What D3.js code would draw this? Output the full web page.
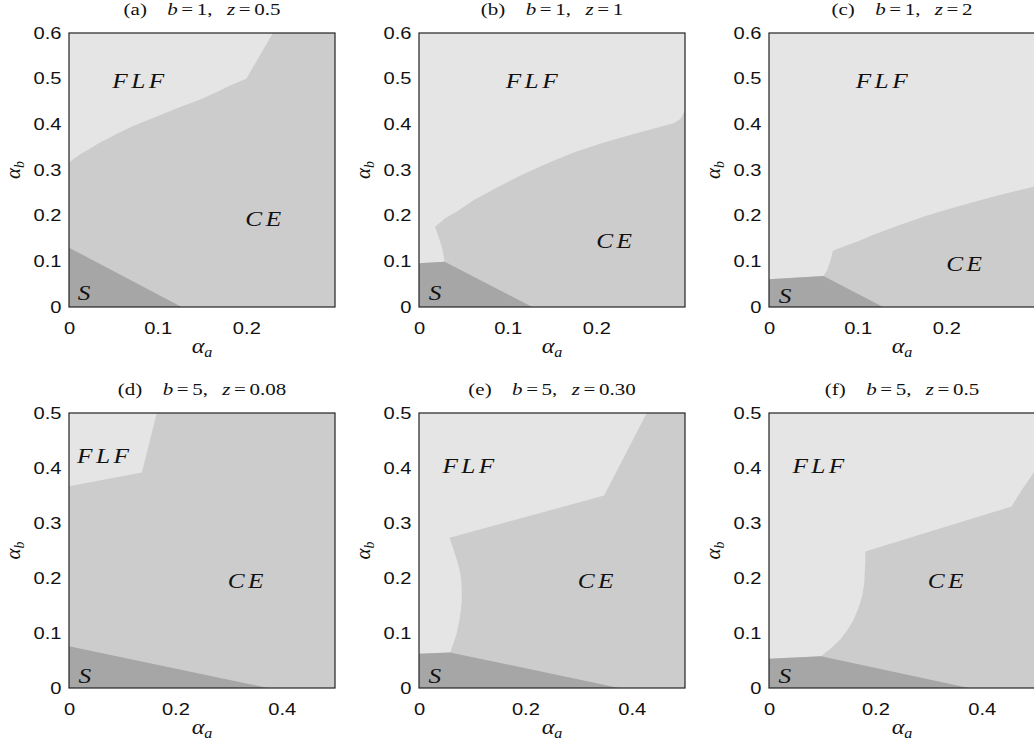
<!DOCTYPE html>
<html>
<head>
<meta charset="utf-8">
<script src="https://cdn.jsdelivr.net/npm/d3@7"></script>
<style>
    body { margin: 0; background: #fff; }
    svg { display: block; }
    .tick text { font-family: "Liberation Sans", Arial, sans-serif; font-size: 16.5px; fill: #111; }
    .serif { font-family: "Liberation Serif", "Times New Roman", serif; fill: #111; }
</style>
</head>
<body>
<svg id="chart"></svg>
<script>
    /* Panel data */

    var panelIds = ['a', 'b', 'c', 'd', 'e', 'f'];
    var bValues = ['1', '1', '1', '5', '5', '5'];
    var zValues = ['0.5', '1', '2', '0.08', '0.30', '0.5'];
    var xMax = [0.3, 0.3, 0.3, 0.5, 0.5, 0.5];
    var yMax = [0.6, 0.6, 0.6, 0.5, 0.5, 0.5];
    var xTicks = [[0, 0.1, 0.2], [0, 0.1, 0.2], [0, 0.1, 0.2], [0, 0.2, 0.4], [0, 0.2, 0.4], [0, 0.2, 0.4]];
    var yTicks = [
        [0, 0.1, 0.2, 0.3, 0.4, 0.5, 0.6], [0, 0.1, 0.2, 0.3, 0.4, 0.5, 0.6], [0, 0.1, 0.2, 0.3, 0.4, 0.5, 0.6],
        [0, 0.1, 0.2, 0.3, 0.4, 0.5], [0, 0.1, 0.2, 0.3, 0.4, 0.5], [0, 0.1, 0.2, 0.3, 0.4, 0.5]
    ];

    /* FLF / CE boundary, from the left edge to the top or right edge */
    var flfEdge = [
        [[0, 0.316], [0.005, 0.324], [0.014, 0.336], [0.024, 0.347], [0.033, 0.358], [0.052, 0.377], [0.071, 0.395],
         [0.09, 0.41], [0.108, 0.424], [0.127, 0.439], [0.146, 0.453], [0.165, 0.469], [0.183, 0.486],
         [0.2, 0.5], [0.23, 0.6]],
        [[0, 0.096], [0.029, 0.099], [0.0257, 0.132], [0.0207, 0.161], [0.018, 0.176], [0.03, 0.195], [0.0427, 0.209],
         [0.0615, 0.234], [0.09, 0.264], [0.118, 0.291], [0.145, 0.315], [0.175, 0.339], [0.205, 0.358],
         [0.231, 0.373], [0.26, 0.388], [0.288, 0.403], [0.295, 0.412], [0.3, 0.43]],
        [[0, 0.0606], [0.0615, 0.068], [0.066, 0.082], [0.0683, 0.0957], [0.0705, 0.11], [0.072, 0.123], [0.085, 0.133],
         [0.0993, 0.143], [0.118, 0.158], [0.145, 0.178], [0.175, 0.198], [0.2, 0.213], [0.231, 0.23],
         [0.26, 0.245], [0.3, 0.264]],
        [[0, 0.367], [0.137, 0.392], [0.165, 0.5]],
        [[0, 0.0624], [0.0585, 0.0647], [0.065, 0.082], [0.071, 0.1], [0.075, 0.118], [0.0785, 0.14], [0.0805, 0.16],
         [0.0803, 0.18], [0.0786, 0.203], [0.075, 0.22], [0.071, 0.233], [0.065, 0.252], [0.0573, 0.273],
         [0.348, 0.35], [0.428, 0.5]],
        [[0, 0.0533], [0.098, 0.0576], [0.116, 0.072], [0.1336, 0.0878], [0.147, 0.105], [0.159, 0.124],
         [0.168, 0.145], [0.175, 0.167], [0.179, 0.19], [0.18, 0.209], [0.181, 0.23], [0.181, 0.248],
         [0.456, 0.33], [0.475, 0.36], [0.5, 0.395]]
    ];

    /* S boundary, from the left edge to the bottom edge */
    var sEdge = [
        [[0, 0.13], [0.127, 0]],
        [[0, 0.096], [0.029, 0.099], [0.128, 0]],
        [[0, 0.0606], [0.0615, 0.068], [0.1287, 0]],
        [[0, 0.0757], [0.375, 0]],
        [[0, 0.0624], [0.0585, 0.0647], [0.376, 0]],
        [[0, 0.0533], [0.098, 0.0576], [0.376, 0]]
    ];

    /* Region label anchors, data coords: FLF, CE, S */
    var flfLabel = [[0.08, 0.497], [0.129, 0.497], [0.129, 0.497], [0.067, 0.424], [0.096, 0.405], [0.096, 0.405]];
    var ceLabel = [[0.221, 0.195], [0.222, 0.147], [0.222, 0.096], [0.335, 0.196], [0.335, 0.196], [0.335, 0.196]];
    var sLabel = [[0.019, 0.033], [0.02, 0.033], [0.02, 0.026], [0.033, 0.024], [0.033, 0.024], [0.033, 0.024]];

    /* Layout */

    var width = 1034,
        height = 747,
        colLeft = [69, 419, 769],
        rowTop = [33, 413],
        plotW = 266,
        plotH = [274, 275],
        stretch = 1.22;

    var colFLF = '#e5e5e5',
        colCE = '#cccccc',
        colS = '#a6a6a6';

    var svg = d3.select('#chart')
        .attr('width', width)
        .attr('height', height);

    var line = d3.line();

    panelIds.forEach(function (id, i) {
        var row = Math.floor(i / 3),
            col = i % 3,
            h = plotH[row];

        var x = d3.scaleLinear().domain([0, xMax[i]]).range([0, plotW]);
        var y = d3.scaleLinear().domain([0, yMax[i]]).range([h, 0]);

        line.x(function (d) { return x(d[0]); }).y(function (d) { return y(d[1]); });

        var g = svg.append('g')
            .attr('transform', 'translate(' + [colLeft[col], rowTop[row]] + ')');

        /* CE background */
        g.append('rect')
            .attr('width', plotW).attr('height', h)
            .attr('fill', colCE);

        /* FLF region */
        var edge = flfEdge[i];
        var flf = [[0, yMax[i]]].concat(edge);
        if (edge[edge.length - 1][1] < yMax[i]) flf.push([xMax[i], yMax[i]]);
        g.append('path')
            .attr('d', line(flf) + 'Z')
            .attr('fill', colFLF);

        /* S region */
        var s = [[0, 0]].concat(sEdge[i]);
        g.append('path')
            .attr('d', line(s) + 'Z')
            .attr('fill', colS);

        /* frame */
        g.append('rect')
            .attr('width', plotW).attr('height', h)
            .attr('fill', 'none')
            .attr('stroke', '#222')
            .attr('stroke-width', 1.2);

        /* axes */
        var fmt = function (d) { return d === 0 ? '0' : d3.format('.1f')(d); };

        var xa = g.append('g')
            .attr('transform', 'translate(0,' + h + ')')
            .call(d3.axisBottom(x).tickValues(xTicks[i]).tickSize(0).tickPadding(15).tickFormat(fmt));
        xa.select('.domain').remove();
        xa.selectAll('.tick text').attr('transform', 'scale(' + stretch + ',1)');

        var ya = g.append('g')
            .call(d3.axisLeft(y).tickValues(yTicks[i]).tickSize(0).tickPadding(7.5 / stretch).tickFormat(fmt));
        ya.select('.domain').remove();
        ya.selectAll('.tick text').attr('transform', 'scale(' + stretch + ',1)');

        /* region labels */
        var labels = [['FLF', flfLabel[i]], ['CE', ceLabel[i]], ['S', sLabel[i]]];
        labels.forEach(function (l) {
            g.append('text')
                .attr('class', 'serif')
                .attr('transform', 'translate(' + [x(l[1][0]), y(l[1][1])] + ') scale(1.15,1)')
                .attr('dy', '0.35em')
                .attr('text-anchor', 'middle')
                .style('font-style', 'italic')
                .style('font-size', '22px')
                .style('letter-spacing', '3px')
                .text(l[0]);
        });

        /* title */
        var t = g.append('text')
            .attr('class', 'serif')
            .attr('transform', 'translate(' + [plotW / 2, -18] + ') scale(1.2,1)')
            .attr('text-anchor', 'middle')
            .style('font-size', '17.5px');
        t.append('tspan').text('(' + id + ')');
        t.append('tspan').attr('dx', 17).style('font-style', 'italic').text('b');
        t.append('tspan').attr('dx', 3).text('=');
        t.append('tspan').attr('dx', 3).text(bValues[i] + ',');
        t.append('tspan').attr('dx', 12).style('font-style', 'italic').text('z');
        t.append('tspan').attr('dx', 3).text('=');
        t.append('tspan').attr('dx', 3).text(zValues[i]);

        /* axis labels */
        var xl = g.append('text')
            .attr('class', 'serif')
            .attr('transform', 'translate(' + [plotW / 2, h + 46] + ') scale(1.15,1)')
            .attr('text-anchor', 'middle')
            .style('font-size', '21px');
        xl.append('tspan').style('font-style', 'italic').text('α');
        xl.append('tspan').style('font-style', 'italic').style('font-size', '14px').attr('dy', 4).text('a');

        var yl = g.append('text')
            .attr('class', 'serif')
            .attr('transform', 'translate(-49,' + (h / 2) + ') rotate(-90)')
            .attr('text-anchor', 'middle')
            .style('font-size', '21px');
        yl.append('tspan').style('font-style', 'italic').text('α');
        yl.append('tspan').style('font-style', 'italic').style('font-size', '14px').attr('dy', 4).text('b');
    });
</script>
</body>
</html>
